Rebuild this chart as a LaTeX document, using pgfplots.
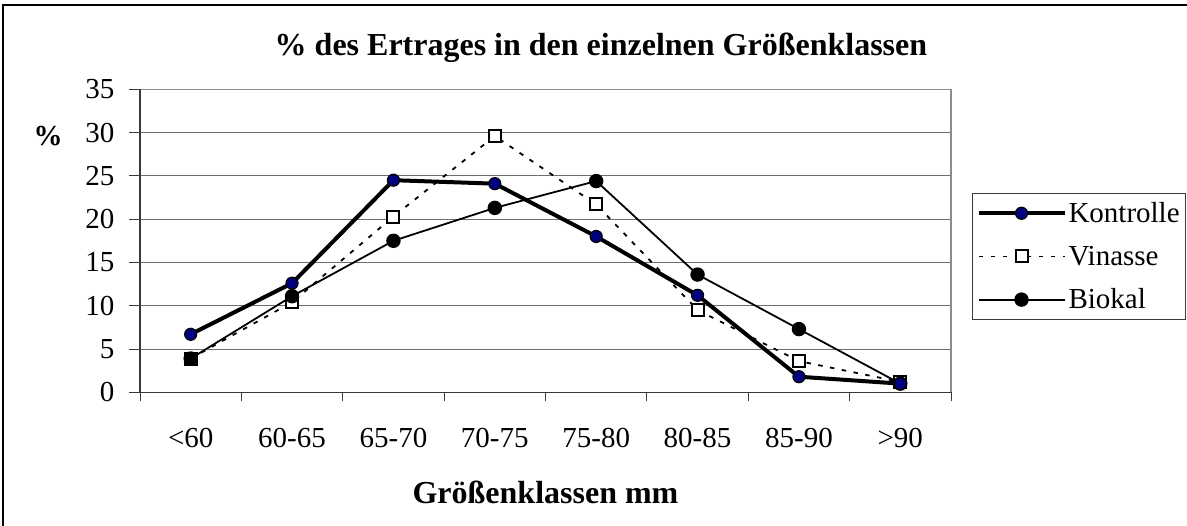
\documentclass[border=0pt]{standalone}
\usepackage{fontspec}
\setmainfont{Liberation Serif}
\usepackage{pgfplots}
\usepackage{pgfplotstable}
\pgfplotsset{compat=1.18}
\definecolor{navyk}{HTML}{000080}
\definecolor{gridgray}{HTML}{6E6E6E}
\definecolor{boxgray}{HTML}{8C8C8C}
\definecolor{axdark}{HTML}{3A3A3A}

\pgfplotstableread{
x K V B
0 6.7 3.9 3.9
1 12.6 10.4 11.1
2 24.5 20.3 17.5
3 24.1 29.6 21.3
4 18.0 21.7 24.4
5 11.2 9.5 13.6
6 1.8 3.6 7.3
7 1.0 1.2 1.0
}\datatable

\begin{document}
\begin{tikzpicture}
\draw[line width=2pt] (2.5pt,0pt) -- (2.5pt,521pt) -- (1187pt,521pt);
\begin{axis}[
  at={(140pt,133.7pt)}, anchor=south west,
  scale only axis, width=811pt, height=303pt,
  xmin=-0.5, xmax=7.5, ymin=0, ymax=35,
  xtick={0,...,7},
  xticklabels={{<60},{60-65},{65-70},{70-75},{75-80},{80-85},{85-90},{>90}},
  minor xtick={-0.5,0.5,...,7.5},
  ytick={0,5,...,35},
  xtick pos=bottom, ytick pos=left,
  tick align=outside,
  major tick length=11pt, minor tick length=9pt,
  major x tick style={draw=none},
  tick style={axdark, line width=1pt},
  minor tick style={axdark, line width=1pt},
  ymajorgrids,
  grid style={gridgray, line width=0.9pt},
  axis line style={draw=none},
  /pgf/number format/assume math mode=true,
  tick label style={font=\fontsize{29}{32}\selectfont},
  xticklabel style={yshift=-21pt},
  yticklabel style={xshift=-11pt},
  title={\% des Ertrages in den einzelnen Größenklassen},
  title style={at={(axis description cs:0.5684,1)}, anchor=center, yshift=36pt,
    font=\bfseries\fontsize{32}{36}\selectfont},
  xlabel={Größenklassen mm},
  xlabel style={at={(axis description cs:0.5,0)}, anchor=center, yshift=-100pt,
    font=\bfseries\fontsize{32}{36}\selectfont},
  ylabel={\%},
  ylabel style={rotate=-90, at={(axis description cs:-0.1134,0.846)}, anchor=center,
    font=\bfseries\fontsize{29}{32}\selectfont},
  legend image code/.code={\draw[mark repeat=2,mark phase=2,#1]
     plot coordinates {(0pt,0pt) (43pt,0pt) (86pt,0pt)};},
  legend style={at={(axis description cs:1.0259,0.6578)}, anchor=north west,
    draw=axdark, line width=1pt, font=\fontsize{29}{32}\selectfont,
    row sep=18pt, inner xsep=4pt, inner ysep=7pt,
    nodes={inner sep=2pt}},
  legend cell align=left,
  extra description/.code={
    \draw[boxgray, line width=1.2pt] (rel axis cs:0,1) -- (rel axis cs:1,1) -- (rel axis cs:1,0);
    \draw[axdark, line width=1.3pt] (rel axis cs:0,1) -- (rel axis cs:0,0) -- (rel axis cs:1,0);
  },
]
\addlegendimage{black, line width=4pt, mark=*, mark size=6pt,
  mark options={fill=navyk, draw=black, line width=1.2pt, solid}}
\addlegendentry{Kontrolle}
\addlegendimage{black, line width=1.8pt, dash pattern=on 4.5pt off 7.5pt, mark=square*, mark size=6pt,
  mark options={fill=white, draw=black, line width=2pt, solid}}
\addlegendentry{Vinasse}
\addlegendimage{black, line width=1.8pt, mark=*, mark size=6.3pt,
  mark options={fill=black, draw=black, solid}}
\addlegendentry{Biokal}

\addplot[forget plot, black, line width=1.8pt, dash pattern=on 4.5pt off 7.5pt, mark=square*, mark size=6pt,
  mark options={fill=white, draw=black, line width=2pt, solid}] table[x=x, y=V] {\datatable};
\addplot[forget plot, black, line width=1.8pt, mark=*, mark size=6.3pt,
  mark options={fill=black, draw=black, solid}] table[x=x, y=B] {\datatable};
\addplot[forget plot, black, line width=4pt, mark=*, mark size=6pt,
  mark options={fill=navyk, draw=black, line width=1.2pt, solid}] table[x=x, y=K] {\datatable};
\end{axis}
\pgfresetboundingbox
\path[use as bounding box] (0pt,0pt) rectangle (1187pt,526pt);
\end{tikzpicture}
\end{document}
